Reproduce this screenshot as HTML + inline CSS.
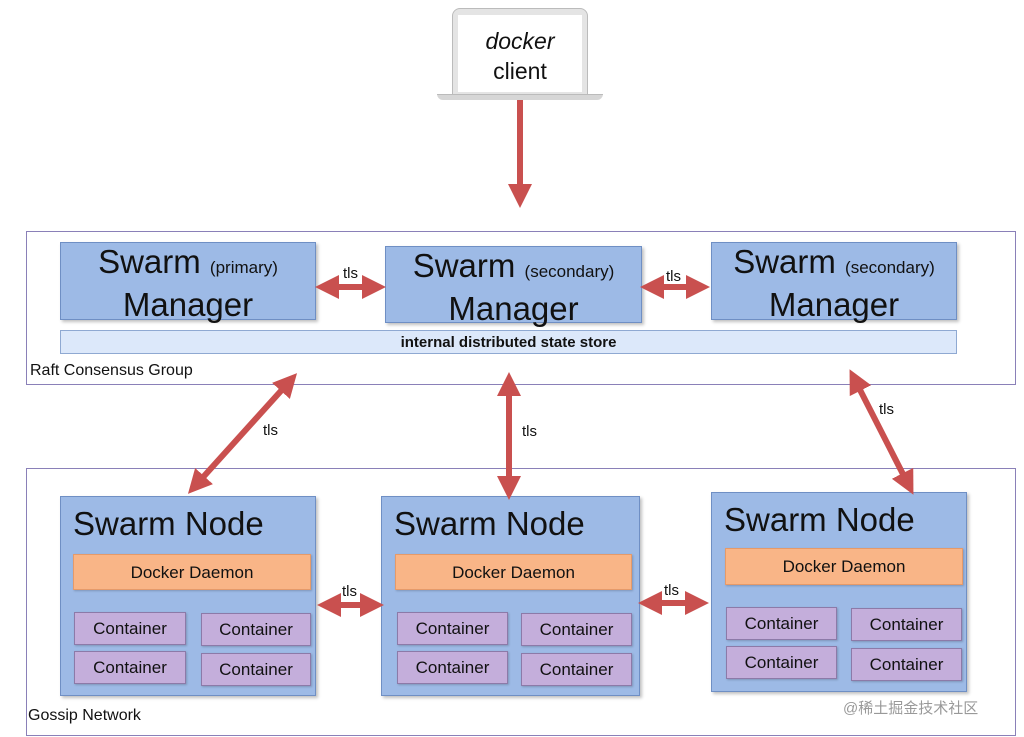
<!DOCTYPE html>
<html><head><meta charset="utf-8"><style>
body{margin:0;width:1024px;height:737px;background:#fff;position:relative;overflow:hidden;font-family:"Liberation Sans","DejaVu Sans",sans-serif;}
.a{position:absolute;box-sizing:border-box;}
.grp{border:1.5px solid #8a80b8;background:#fff;}
.mgr{background:#9dbae6;border:1px solid #6f8fc4;box-shadow:2px 2px 3px rgba(0,0,0,.25);text-align:center;color:#111;}
.mgr .t{font-size:33px;line-height:37px;margin-top:0px;}
.mgr .t small{font-size:17px;}
.node{background:#9dbae6;border:1px solid #6f8fc4;box-shadow:2px 2px 3px rgba(0,0,0,.25);}
.node .t{position:absolute;left:12px;top:8px;font-size:33px;color:#111;}
.dd{background:#f9b587;border:1px solid #e59a6a;text-align:center;font-size:17px;line-height:36px;color:#111;box-shadow:1px 1px 2px rgba(0,0,0,.2);}
.ct{background:#c4aedb;border:1px solid #8c7aa8;text-align:center;font-size:17px;line-height:32px;color:#111;box-shadow:1px 1px 2px rgba(0,0,0,.2);}
.lbl{position:absolute;font-size:15px;color:#111;}
</style></head><body>
<div class="a grp" style="left:26px;top:231px;width:990px;height:154px"></div>
<div class="a grp" style="left:26px;top:468px;width:990px;height:268px"></div>
<div class="lbl" style="left:30px;top:362px;font-size:16px">Raft Consensus Group</div>
<div class="lbl" style="left:28px;top:707px;font-size:16px">Gossip Network</div>

<div class="a mgr" style="left:60px;top:242px;width:256px;height:78px"><div class="t">Swarm <small>(primary)</small><br>Manager</div></div>
<div class="a mgr" style="left:385px;top:246px;width:257px;height:77px"><div class="t">Swarm <small>(secondary)</small><br>Manager</div></div>
<div class="a mgr" style="left:711px;top:242px;width:246px;height:78px"><div class="t">Swarm <small>(secondary)</small><br>Manager</div></div>
<div class="a" style="left:60px;top:330px;width:897px;height:24px;background:#dce8fa;border:1px solid #8fa9d2;text-align:center;font-size:15px;font-weight:bold;line-height:23px;color:#111">internal distributed state store</div>

<div class="a node" style="left:60px;top:496px;width:256px;height:200px"><div class="t">Swarm Node</div></div>
<div class="a dd" style="left:73px;top:554px;width:238px;height:36px">Docker Daemon</div>
<div class="a ct" style="left:74px;top:612px;width:112px;height:33px">Container</div>
<div class="a ct" style="left:201px;top:613px;width:110px;height:33px">Container</div>
<div class="a ct" style="left:74px;top:651px;width:112px;height:33px">Container</div>
<div class="a ct" style="left:201px;top:653px;width:110px;height:33px">Container</div>

<div class="a node" style="left:381px;top:496px;width:259px;height:200px"><div class="t">Swarm Node</div></div>
<div class="a dd" style="left:395px;top:554px;width:237px;height:36px">Docker Daemon</div>
<div class="a ct" style="left:397px;top:612px;width:111px;height:33px">Container</div>
<div class="a ct" style="left:521px;top:613px;width:111px;height:33px">Container</div>
<div class="a ct" style="left:397px;top:651px;width:111px;height:33px">Container</div>
<div class="a ct" style="left:521px;top:653px;width:111px;height:33px">Container</div>

<div class="a node" style="left:711px;top:492px;width:256px;height:200px"><div class="t">Swarm Node</div></div>
<div class="a dd" style="left:725px;top:548px;width:238px;height:37px">Docker Daemon</div>
<div class="a ct" style="left:726px;top:607px;width:111px;height:33px">Container</div>
<div class="a ct" style="left:851px;top:608px;width:111px;height:33px">Container</div>
<div class="a ct" style="left:726px;top:646px;width:111px;height:33px">Container</div>
<div class="a ct" style="left:851px;top:648px;width:111px;height:33px">Container</div>

<!-- laptop -->
<div class="a" style="left:452px;top:8px;width:136px;height:90px;background:#e4e4e4;border:1px solid #bbb;border-radius:8px 8px 0 0"></div>
<div class="a" style="left:458px;top:15px;width:124px;height:77px;background:#fff"></div>
<div class="a" style="left:437px;top:94px;width:166px;height:6px;background:#d6d6d6;border-radius:0 0 8px 8px;border-top:1px solid #bbb"></div>
<div class="a" style="left:458px;top:26px;width:124px;text-align:center;font-size:23px;line-height:30px;color:#111"><i>docker</i><br>client</div>

<svg class="a" style="left:0;top:0" width="1024" height="737">
<defs>
<marker id="h" markerWidth="4" markerHeight="4" refX="2" refY="2" orient="auto-start-reverse" markerUnits="strokeWidth"><path d="M0,0L4,2L0,4z" fill="#c9504f"/></marker>
</defs>
<g stroke="#c9504f" stroke-width="6" fill="none">
<line x1="520" y1="100" x2="520" y2="196" marker-end="url(#h)"/>
<line x1="327" y1="287" x2="374" y2="287" marker-start="url(#h)" marker-end="url(#h)"/>
<line x1="652" y1="287" x2="698" y2="287" marker-start="url(#h)" marker-end="url(#h)"/>
<line x1="289" y1="382" x2="196" y2="485" marker-start="url(#h)" marker-end="url(#h)"/>
<line x1="509" y1="384" x2="509" y2="488" marker-start="url(#h)" marker-end="url(#h)"/>
<line x1="855" y1="380" x2="908" y2="484" marker-start="url(#h)" marker-end="url(#h)"/>
<line x1="329" y1="605" x2="372" y2="605" marker-start="url(#h)" marker-end="url(#h)"/>
<line x1="650" y1="603" x2="697" y2="603" marker-start="url(#h)" marker-end="url(#h)"/>
</g>
</svg>
<div class="lbl" style="left:343px;top:265px">tls</div>
<div class="lbl" style="left:666px;top:268px">tls</div>
<div class="lbl" style="left:263px;top:422px">tls</div>
<div class="lbl" style="left:522px;top:423px">tls</div>
<div class="lbl" style="left:879px;top:401px">tls</div>
<div class="lbl" style="left:342px;top:583px">tls</div>
<div class="lbl" style="left:664px;top:582px">tls</div>
<div class="lbl" style="left:843px;top:697px;color:#999;font-family:'Liberation Sans','Noto Sans CJK SC',sans-serif">@稀土掘金技术社区</div>
</body></html>
